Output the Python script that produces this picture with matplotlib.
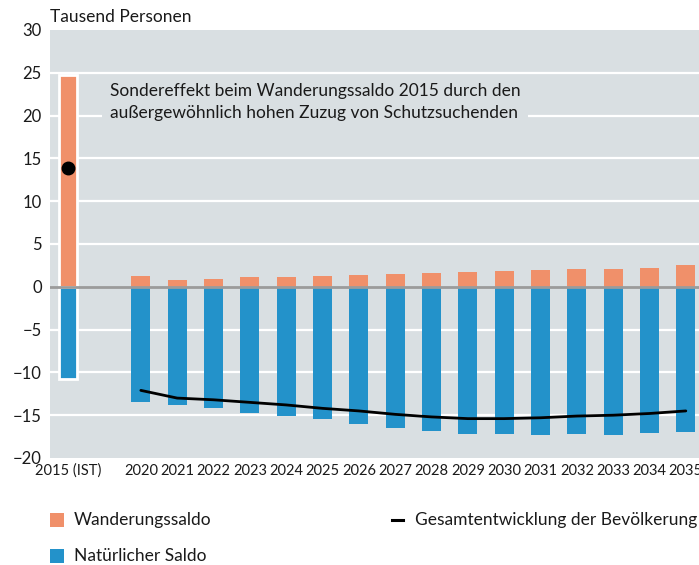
import matplotlib
matplotlib.use("Agg")
import matplotlib.pyplot as plt
import matplotlib.patches as mpatches
from matplotlib.lines import Line2D
import numpy as np

plt.rcParams['font.family'] = ['Lato', 'DejaVu Sans']

# data (Tausend Personen)
years = ['2015 (IST)', '2020', '2021', '2022', '2023', '2024', '2025', '2026', '2027',
         '2028', '2029', '2030', '2031', '2032', '2033', '2034', '2035']
wanderung = [24.8, 1.3, 0.8, 0.9, 1.2, 1.2, 1.3, 1.4, 1.5, 1.6, 1.75, 1.9, 2.0, 2.1, 2.1, 2.25, 2.5]
natuerlich = [-10.8, -13.5, -13.8, -14.2, -14.7, -15.1, -15.5, -16.0, -16.5, -16.9, -17.2,
              -17.2, -17.3, -17.2, -17.3, -17.1, -17.0]
gesamt_2015 = 13.9
gesamt = [-12.1, -13.0, -13.2, -13.5, -13.8, -14.2, -14.5, -14.9, -15.2, -15.4, -15.4,
          -15.3, -15.1, -15.0, -14.8, -14.5]

ORANGE = '#F0906A'
BLUE = '#2392CA'
BG = '#D9DFE2'
TXT = '#1a1a1a'

# 2015 sits at 0, projections start at 2 (gap of one slot)
xpos = np.array([0] + list(range(2, 2 + len(years) - 1)))

fig = plt.figure(figsize=(6.99, 5.65), dpi=100)
ax = fig.add_axes([50 / 699, 107 / 565, 654 / 699, 428 / 565])
ax.set_facecolor(BG)

ax.set_xlim(-0.5, 17.5)
ax.set_ylim(-20, 30)

# white grid lines
for yv in [-15, -10, -5, 5, 10, 15, 20, 25]:
    ax.axhline(yv, color='white', lw=1.6, zorder=1)

# 2015 bar (white outline)
ax.bar(xpos[0], wanderung[0], width=0.5, color=ORANGE, edgecolor='white', lw=2, zorder=3)
ax.bar(xpos[0], natuerlich[0], width=0.5, color=BLUE, edgecolor='white', lw=2, zorder=3)
ax.plot(xpos[0], gesamt_2015, 'o', color='black', ms=9, zorder=5)

# projection bars
ax.bar(xpos[1:], wanderung[1:], width=0.52, color=ORANGE, lw=0, zorder=3)
ax.bar(xpos[1:], natuerlich[1:], width=0.52, color=BLUE, lw=0, zorder=3)
ax.plot(xpos[1:], gesamt, color='black', lw=2, zorder=5, solid_capstyle='round')

# zero line
ax.axhline(0, color='#9b9b9b', lw=2, zorder=4)

# note
ax.text(1.15, 21.6, 'Sondereffekt beim Wanderungssaldo 2015 durch den\n'
        'außergewöhnlich hohen Zuzug von Schutzsuchenden',
        fontsize=12.5, color=TXT, va='center', ha='left', linespacing=1.4, zorder=6,
        bbox=dict(boxstyle='square,pad=0.45', facecolor=BG, edgecolor='none'))

ax.set_yticks(range(-20, 31, 5))
ax.set_yticklabels([str(v).replace('-', '\u2212') for v in range(-20, 31, 5)])
ax.set_xticks(xpos)
ax.set_xticklabels(years)
ax.tick_params(axis='y', length=0, pad=6, labelsize=12, labelcolor=TXT)
ax.tick_params(axis='x', length=0, pad=4, labelsize=10.5, labelcolor=TXT)
for s in ax.spines.values():
    s.set_visible(False)

fig.text(50 / 699, 1 - 17 / 565, 'Tausend Personen', fontsize=12.5, color=TXT,
         ha='left', va='center')

# legend drawn by hand
fig.patches.append(mpatches.Rectangle((50 / 699, 1 - 527 / 565), 14 / 699, 14 / 565,
                                      transform=fig.transFigure, facecolor=ORANGE, edgecolor='none'))
fig.patches.append(mpatches.Rectangle((50 / 699, 1 - 563 / 565), 14 / 699, 14 / 565,
                                      transform=fig.transFigure, facecolor=BLUE, edgecolor='none'))
fig.text(74 / 699, 1 - 520 / 565, 'Wanderungssaldo', fontsize=12.5, color=TXT, va='center')
fig.text(74 / 699, 1 - 556 / 565, 'Natürlicher Saldo', fontsize=12.5, color=TXT, va='center')
fig.lines.append(Line2D([392 / 699, 403 / 699], [1 - 520 / 565, 1 - 520 / 565],
                        transform=fig.transFigure, color='black', lw=2.2))
fig.text(415 / 699, 1 - 520 / 565, 'Gesamtentwicklung der Bevölkerung', fontsize=12.5,
         color=TXT, va='center')

fig.savefig('out.png', dpi=100)
